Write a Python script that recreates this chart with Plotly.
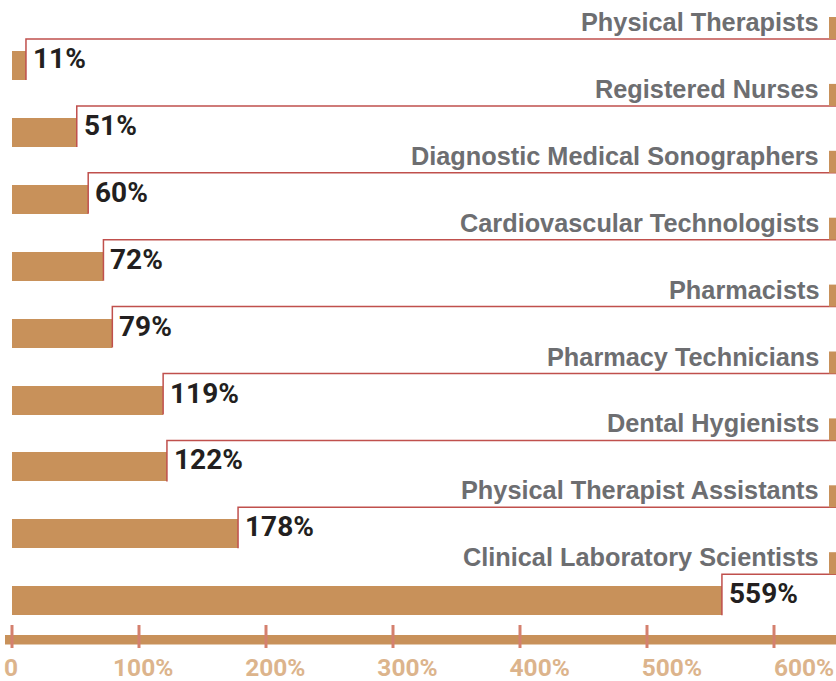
import plotly.graph_objects as go

categories = ["Physical Therapists", "Registered Nurses", "Diagnostic Medical Sonographers",
              "Cardiovascular Technologists", "Pharmacists", "Pharmacy Technicians",
              "Dental Hygienists", "Physical Therapist Assistants", "Clinical Laboratory Scientists"]
values = [11, 51, 60, 72, 79, 119, 122, 178, 559]
value_labels = ["11%", "51%", "60%", "72%", "79%", "119%", "122%", "178%", "559%"]
tick_vals = [0, 100, 200, 300, 400, 500, 600]
tick_text = ["0", "100%", "200%", "300%", "400%", "500%", "600%"]

BAR = "#c8915a"
RED = "#c0504d"
GRAY = "#6d6e71"
DARK = "#231f20"
TICKLBL = "#dcb48c"
TICKMARK = "#d4806e"
NARROW = "Roboto, Liberation Sans, Arial, sans-serif"
SANS = "Liberation Sans, Arial, sans-serif"

W, H = 836, 681
MB = 31
plot_h = H - MB
row0 = 65.5   # px of first bar centre
step = 66.9   # px between rows
px_per = 1.27  # px per percent (bars)
x0px = 12
xr = [-x0px / px_per, (W - x0px) / px_per]
yr = [(plot_h - row0) / step, -row0 / step]
lbl_per = 1.3217  # px per percent for the tick-label row
xr2 = [-11 / lbl_per, (W - 11) / lbl_per]

def py(px):
    return (px - row0) / step

bw = 29 / step
n = len(categories)
idx = list(range(n))

fig = go.Figure()
fig.add_trace(go.Bar(x=values, y=idx, orientation="h", width=bw,
                     marker=dict(color=BAR, line=dict(width=0)),
                     hoverinfo="skip", showlegend=False))

line_off = bw / 2 + 12 / step
for i, v in enumerate(values):
    fig.add_trace(go.Scatter(x=[v, v, xr[1] + 5], y=[i + bw / 2, i - line_off, i - line_off],
                             mode="lines", line=dict(color=RED, width=1.5),
                             hoverinfo="skip", showlegend=False))
    fig.add_annotation(x=v, y=i - 7 / step, xref="x", yref="y", text=value_labels[i],
                       showarrow=False, xanchor="left", yanchor="middle", xshift=5,
                       font=dict(family=NARROW, size=28, color=DARK, weight="bold"))
    fig.add_annotation(x=821 / W, y=i - 43.5 / step, xref="paper", yref="y", text=categories[i],
                       showarrow=False, xanchor="right", yanchor="middle",
                       font=dict(family=SANS, size=25.3, color=GRAY, weight="bold"))
    fig.add_shape(type="rect", xref="paper", yref="y", x0=829 / W, x1=1.0,
                  y0=i - (row0 - 17) / step, y1=i - line_off, fillcolor=BAR, line=dict(width=0))

# axis bar
fig.add_shape(type="rect", xref="paper", yref="y", x0=5 / W, x1=1.0,
              y0=py(635), y1=py(644.5), fillcolor=BAR, line=dict(width=0))
for t in tick_vals:
    fig.add_shape(type="line", xref="x", yref="y", x0=t, x1=t, y0=py(625), y1=py(648),
                  line=dict(color=TICKMARK, width=3))

fig.update_layout(
    width=W, height=H, margin=dict(l=0, r=0, t=0, b=MB, autoexpand=False),
    paper_bgcolor="white", plot_bgcolor="white",
    xaxis=dict(range=xr, showgrid=False, zeroline=False, showticklabels=False, showline=False,
               automargin=False),
    xaxis2=dict(range=xr2, overlaying="x", anchor="y", side="bottom", automargin=False,
                tickvals=tick_vals, ticktext=tick_text, showgrid=False, zeroline=False,
                showline=False, ticks="", ticklabelstandoff=0,
                tickfont=dict(family=NARROW, size=24.5, color=TICKLBL, weight="bold")),
    yaxis=dict(range=yr, showgrid=False, zeroline=False, showticklabels=False, showline=False,
               automargin=False),
    bargap=0,
)
# invisible trace to activate xaxis2
fig.add_trace(go.Scatter(x=[0], y=[0], xaxis="x2", yaxis="y", mode="markers",
                         marker=dict(opacity=0), hoverinfo="skip", showlegend=False))

fig.write_html("out.html", config={"displayModeBar": False},
               post_script="document.body.style.margin='0';document.body.style.overflow='hidden';")
